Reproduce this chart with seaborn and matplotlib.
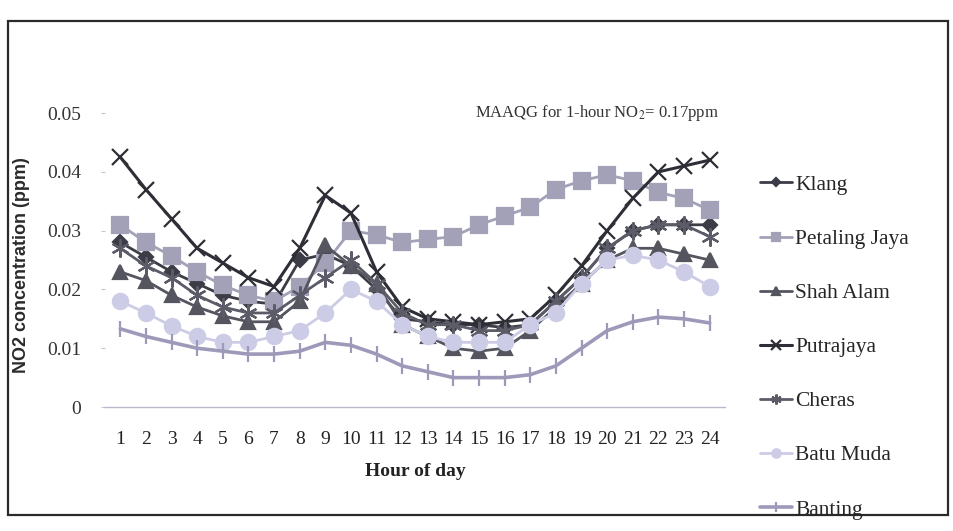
import numpy as np
import pandas as pd
import matplotlib
matplotlib.use("Agg")
import matplotlib.pyplot as plt
import seaborn as sns
from matplotlib.patches import Rectangle

hours = list(range(1, 25))

klang = [0.028, 0.0255, 0.023, 0.021, 0.019, 0.018, 0.0175, 0.025, 0.026, 0.024, 0.020, 0.015,
         0.0145, 0.014, 0.014, 0.0135, 0.014, 0.018, 0.022, 0.027, 0.030, 0.031, 0.031, 0.031]
petaling_jaya = [0.031, 0.028, 0.0257, 0.023, 0.0207, 0.019, 0.018, 0.0205, 0.0245, 0.030, 0.0293, 0.028,
                 0.0285, 0.029, 0.031, 0.0325, 0.034, 0.037, 0.0385, 0.0395, 0.0385, 0.0365, 0.0355, 0.0335]
shah_alam = [0.023, 0.0215, 0.019, 0.017, 0.0155, 0.0145, 0.0145, 0.018, 0.0275, 0.024, 0.021, 0.014,
             0.012, 0.010, 0.0095, 0.010, 0.013, 0.017, 0.021, 0.025, 0.027, 0.027, 0.026, 0.025]
putrajaya = [0.0425, 0.037, 0.032, 0.027, 0.0245, 0.022, 0.0205, 0.027, 0.036, 0.033, 0.023, 0.017,
             0.015, 0.0145, 0.014, 0.0145, 0.015, 0.019, 0.024, 0.030, 0.0355, 0.040, 0.041, 0.042]
cheras = [0.027, 0.024, 0.022, 0.019, 0.017, 0.016, 0.016, 0.019, 0.022, 0.025, 0.021, 0.016,
          0.014, 0.014, 0.013, 0.013, 0.014, 0.018, 0.022, 0.027, 0.030, 0.031, 0.031, 0.029]
batu_muda = [0.018, 0.016, 0.0138, 0.012, 0.011, 0.011, 0.012, 0.013, 0.016, 0.020, 0.018, 0.014,
             0.012, 0.011, 0.011, 0.011, 0.014, 0.016, 0.021, 0.025, 0.0258, 0.025, 0.023, 0.0205]
banting = [0.0133, 0.012, 0.011, 0.010, 0.0095, 0.009, 0.009, 0.0095, 0.011, 0.0105, 0.009, 0.007,
           0.006, 0.005, 0.005, 0.005, 0.0055, 0.007, 0.010, 0.013, 0.0145, 0.0153, 0.015, 0.0143]

stations = ["Klang", "Petaling Jaya", "Shah Alam", "Putrajaya", "Cheras", "Batu Muda", "Banting"]
series = [klang, petaling_jaya, shah_alam, putrajaya, cheras, batu_muda, banting]
y_ticks = [0, 0.01, 0.02, 0.03, 0.04, 0.05]
y_tick_labels = ["0", "0.01", "0.02", "0.03", "0.04", "0.05"]

# per-station look (colour, marker, marker size, line width)
styles = {
    "Klang": ("#3c3c46", "D", 7, 2.0),
    "Petaling Jaya": ("#a3a1b8", "s", 11, 2.0),
    "Shah Alam": ("#55555f", "^", 10, 2.0),
    "Putrajaya": ("#2e2e36", "x", 12, 2.2),
    "Cheras": ("#5c5c68", (6, 2, 0), 13, 2.0),
    "Batu Muda": ("#cdcce6", "o", 11, 2.0),
    "Banting": ("#9d99b9", "|", 12, 2.6),
}

rows = []
for name, vals in zip(stations, series):
    for h, v in zip(hours, vals):
        rows.append({"Hour": h, "NO2": v, "Station": name})
df = pd.DataFrame(rows)

sns.set_style("white")
plt.rcParams["font.family"] = ["Liberation Serif", "DejaVu Serif"]
plt.rcParams["mathtext.fontset"] = "stix"

fig = plt.figure(figsize=(9.54, 5.31), dpi=100)
ax = fig.add_axes([0.110, 0.2335, 0.650, 0.5535])

for name in stations:
    color, marker, ms, lw = styles[name]
    sns.lineplot(data=df[df["Station"] == name], x="Hour", y="NO2", ax=ax,
                 color=color, marker=marker, markersize=ms, linewidth=lw,
                 markeredgecolor=color, markeredgewidth=1.6, label=name)

ax.set_xlim(0.4, 24.6)
ax.set_ylim(0, 0.05)
ax.set_xticks(hours)
ax.set_xticklabels([str(h) for h in hours], fontsize=14)
ax.set_yticks(y_ticks)
ax.set_yticklabels(y_tick_labels, fontsize=14)
ax.set_xlabel("")
ax.set_ylabel("")
for s in ["top", "right", "left"]:
    ax.spines[s].set_visible(False)
ax.spines["bottom"].set_color("#b9b9cc")
ax.spines["bottom"].set_linewidth(1.0)
ax.tick_params(axis="x", length=3, color="#b9b9cc", pad=14, labelcolor="#222222")
ax.tick_params(axis="y", length=3, color="#c4c4d4", pad=14, labelcolor="#333333", left=True)

ax.text(24.35, 0.05, "MAAQG for 1-hour NO$_2$= 0.17ppm", ha="right", va="center",
        fontsize=12, color="#333333", clip_on=False)

handles, labels = ax.get_legend_handles_labels()
ax.get_legend().remove()
fig.legend(handles, labels, loc="upper left", bbox_to_anchor=(0.776, 0.707),
           frameon=False, fontsize=15.5, labelspacing=1.58, handlelength=1.5,
           handletextpad=0.15, markerscale=0.55)

fig.text(0.023, 0.50, "NO2 concentration (ppm)", rotation=90, ha="center", va="center",
         fontsize=13, fontweight="bold", family="Liberation Sans", color="#2a2a2a")
fig.text(0.435, 0.112, "Hour of day", ha="center", va="center",
         fontsize=14, fontweight="bold", color="#222222")

fig.patches.append(Rectangle((0.008, 0.03), 0.986, 0.93, transform=fig.transFigure,
                             fill=False, edgecolor="#2a2a2a", linewidth=1.6))

fig.savefig("out.png", dpi=100, facecolor="white")
